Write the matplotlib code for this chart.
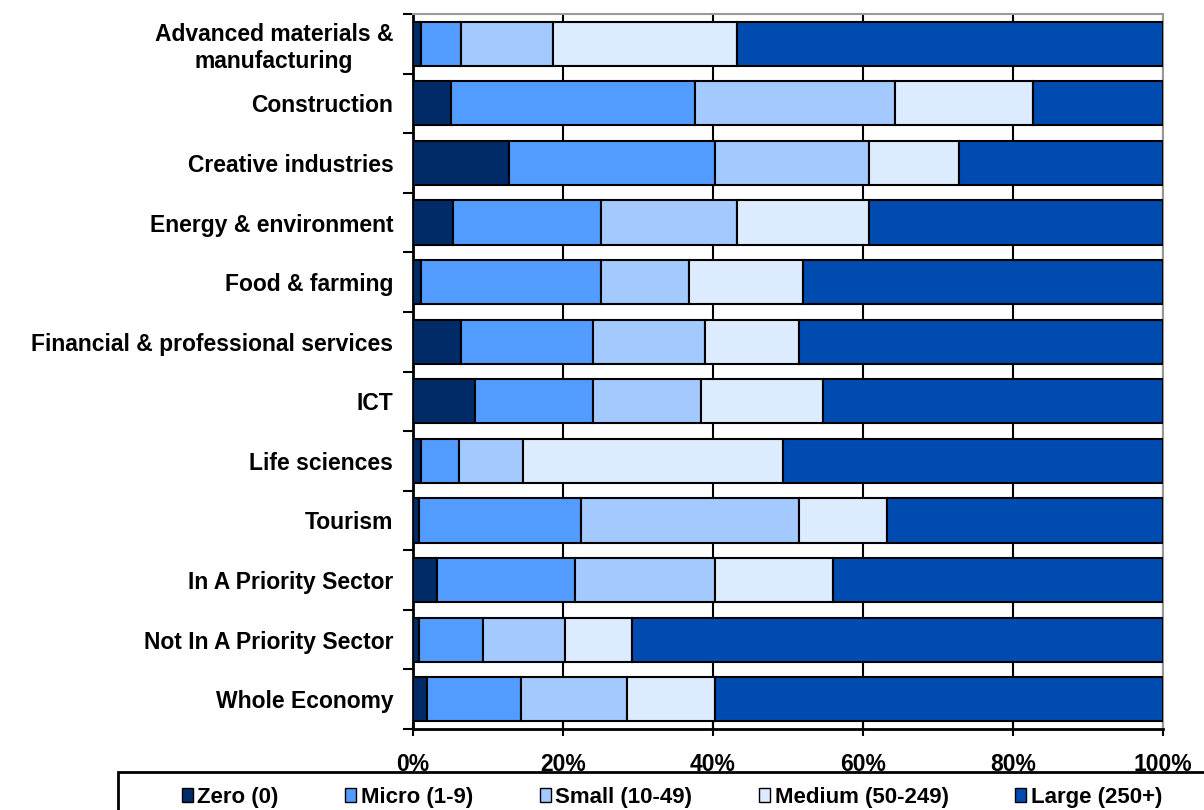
import numpy as np
import matplotlib.pyplot as plt
from matplotlib.ticker import FixedLocator
from matplotlib.patches import Rectangle

plt.rcParams['font.family'] = ['Liberation Sans', 'DejaVu Sans']

# Sectors, top to bottom
sectors = [
    "Advanced materials &\nmanufacturing",
    "Construction",
    "Creative industries",
    "Energy & environment",
    "Food & farming",
    "Financial & professional services",
    "ICT",
    "Life sciences",
    "Tourism",
    "In A Priority Sector",
    "Not In A Priority Sector",
    "Whole Economy",
]

# Share of employment by business size band (%)
zero = [1.1, 5.1, 12.8, 5.4, 1.1, 6.4, 8.3, 1.1, 0.8, 3.3, 0.8, 1.9]
micro = [5.3, 32.5, 27.5, 19.7, 24.0, 17.7, 15.8, 5.1, 21.6, 18.3, 8.6, 12.5]
small = [12.3, 26.7, 20.6, 18.2, 11.8, 14.9, 14.3, 8.5, 29.0, 18.7, 10.9, 14.2]
medium = [24.5, 18.5, 11.9, 17.6, 15.2, 12.5, 16.35, 34.7, 11.8, 15.8, 8.9, 11.7]
large = [56.8, 17.25, 27.2, 39.1, 47.9, 48.5, 45.25, 50.6, 36.7, 43.9, 70.8, 59.7]

bands = ["Zero (0)", "Micro (1-9)", "Small (10-49)", "Medium (50-249)", "Large (250+)"]
colors = ["#002B66", "#529CFF", "#A3C9FF", "#DDEBFF", "#004BAF"]

series = np.array([zero, micro, small, medium, large])
series = series / series.sum(axis=0) * 100

W, H = 1204, 810
fig = plt.figure(figsize=(W / 100, H / 100), dpi=100)
ax = fig.add_axes([412.7 / W, 81 / H, 750 / W, 715 / H])

y = np.arange(len(sectors))
left = np.zeros(len(sectors))
for vals, name, col in zip(series, bands, colors):
    ax.barh(y, vals, left=left, height=0.74, color=col, edgecolor='black',
            linewidth=1.5, label=name, zorder=3)
    left += vals

ax.set_ylim(len(sectors) - 0.5, -0.5)
ax.set_xlim(0, 100)

# x axis
ax.set_xticks(np.arange(0, 101, 20))
ax.set_xticklabels([f"{v}%" for v in range(0, 101, 20)], fontsize=16.5, fontweight='bold')
ax.tick_params(axis='x', direction='inout', length=10, width=1.5, pad=12)
ax.grid(axis='x', color='black', linewidth=1.5, zorder=0)

# y axis: labels at centers, ticks between categories
ax.set_yticks(y)
ax.set_yticklabels(sectors, fontsize=16.5, fontweight='bold', multialignment='center')
ax.tick_params(axis='y', which='major', length=0, pad=14)
ax.yaxis.set_minor_locator(FixedLocator(np.arange(-0.5, len(sectors), 1)))
ax.tick_params(axis='y', which='minor', length=7, width=1.5, direction='out')

for side in ['left', 'bottom']:
    ax.spines[side].set_linewidth(2)
ax.spines['top'].set_color('#999999')
ax.spines['right'].set_color('#999999')
ax.spines['top'].set_linewidth(1.5)
ax.spines['right'].set_linewidth(1.5)

# legend box along the bottom
fig.patches.append(Rectangle((118 / W, -0.05), 1.1, (H - 772) / H + 0.05,
                             transform=fig.transFigure, facecolor='none',
                             edgecolor='black', linewidth=2))
leg = fig.legend(loc='center', bbox_to_anchor=(672 / W, 13 / H), ncol=5,
                 frameon=False, borderaxespad=0, borderpad=0,
                 prop={'weight': 'bold', 'size': 16},
                 handlelength=0.5, handleheight=0.6, handletextpad=0.2,
                 columnspacing=3.0)
for lh in leg.legend_handles:
    lh.set_linewidth(1.0)

fig.savefig('out.png', dpi=100)
